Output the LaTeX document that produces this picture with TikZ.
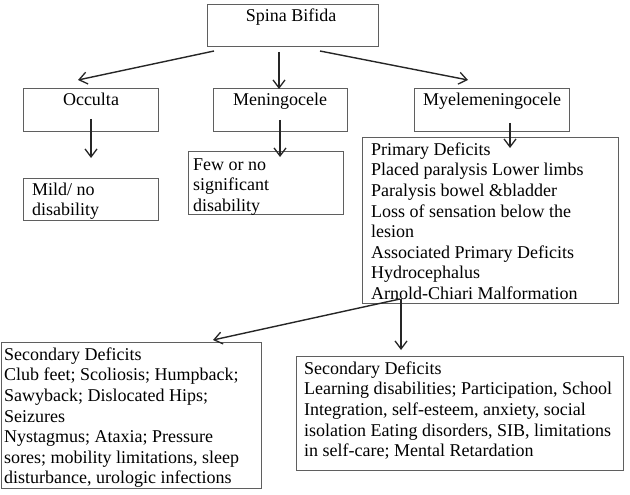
\documentclass[tikz,border=0pt]{standalone}
\usepackage{fontspec}
\setmainfont{Liberation Serif}
\usetikzlibrary{arrows.meta}
\definecolor{boxgray}{RGB}{95,95,95}
\tikzset{
  box/.style={draw=boxgray, line width=0.9pt, rectangle, inner sep=0pt, anchor=north west},
  lbl/.style={anchor=north west, align=left, inner sep=0pt, font=\fontsize{18}{20.6}\selectfont},
  clbl/.style={anchor=base, inner sep=0pt, font=\fontsize{18}{20.6}\selectfont},
  arr/.style={draw=black!85, line width=1.4pt, -{Straight Barb[length=8pt,width=12pt,line width=1.3pt]}},
}
\newcommand{\fs}{\rule{0pt}{13pt}}
\begin{document}
\begin{tikzpicture}[x=1pt,y=-1pt]
\useasboundingbox (0,0) rectangle (630,495);
% boxes
\node[box, minimum width=171pt, minimum height=42pt] (sb) at (207,4) {};
\node[box, minimum width=135pt, minimum height=43pt] (occ) at (23,88) {};
\node[box, minimum width=134pt, minimum height=43pt] (men) at (213,88) {};
\node[box, minimum width=155pt, minimum height=43pt] (mye) at (414,88) {};
\node[box, minimum width=135pt, minimum height=42pt] (mild) at (23,178) {};
\node[box, minimum width=155pt, minimum height=63pt] (few) at (188,151) {};
\node[box, minimum width=256pt, minimum height=166pt] (prim) at (362,137) {};
\node[box, minimum width=260pt, minimum height=146pt] (secl) at (1,342) {};
\node[box, minimum width=327pt, minimum height=114pt] (secr) at (296,356) {};
% texts
\node[clbl] (tsb) at (291,22) {Spina Bifida};
\node[clbl] (tocc) at (91,106) {Occulta};
\node[clbl] (tmen) at (280,106) {Meningocele};
\node[clbl] (tmye) at (492,106) {Myelemeningocele};
\node[lbl] (tmild) at (32,182) {\fs Mild/ no\\disability};
\node[lbl] (tfew) at (193,157) {\fs Few or no\\significant\\disability};
\node[lbl] (tprim) at (371,142) {\fs Primary Deficits\\Placed paralysis Lower limbs\\Paralysis bowel \&bladder\\Loss of sensation below the\\lesion\\Associated Primary Deficits\\Hydrocephalus\\Arnold-Chiari Malformation};
\node[lbl] (tsecl) at (4,347) {\fs Secondary Deficits\\Club feet; Scoliosis; Humpback;\\Sawyback; Dislocated Hips;\\Seizures\\Nystagmus; Ataxia; Pressure\\sores; mobility limitations, sleep\\disturbance, urologic infections};
\node[lbl] (tsecr) at (304,361) {\fs Secondary Deficits\\Learning disabilities; Participation, School\\Integration, self-esteem, anxiety, social\\isolation Eating disorders, SIB, limitations\\in self-care; Mental Retardation};
% connector end points
\coordinate (a1s) at (214,51); \coordinate (a1e) at (78,80);
\coordinate (a2s) at (279,52); \coordinate (a2e) at (279,89);
\coordinate (a3s) at (320,51); \coordinate (a3e) at (468,80);
\coordinate (a4s) at (91,119); \coordinate (a4e) at (91,158);
\coordinate (a5s) at (280,120); \coordinate (a5e) at (280,157);
\coordinate (a6s) at (510,123); \coordinate (a6e) at (510,148);
\coordinate (a7s) at (400,299); \coordinate (a7e) at (213,340);
\coordinate (a8s) at (401,299); \coordinate (a8e) at (401,350);
\draw[arr] (a1s) -- (a1e);
\draw[arr] (a2s) -- (a2e);
\draw[arr] (a3s) -- (a3e);
\draw[arr] (a4s) -- (a4e);
\draw[arr] (a5s) -- (a5e);
\draw[arr] (a6s) -- (a6e);
\draw[arr] (a7s) -- (a7e);
\draw[arr] (a8s) -- (a8e);
\end{tikzpicture}
\end{document}
